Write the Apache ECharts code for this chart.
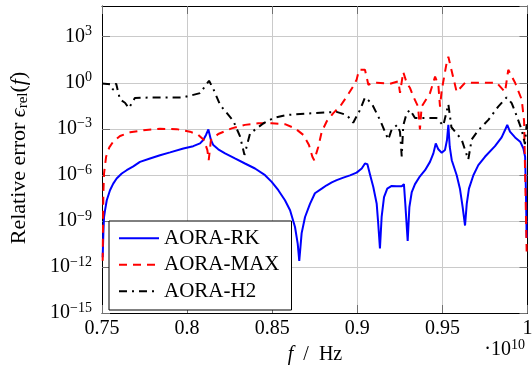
<!DOCTYPE html>
<html><head><meta charset="utf-8">
<script src="https://cdn.jsdelivr.net/npm/echarts@6/dist/echarts.min.js"></script>
<style>html,body{margin:0;padding:0;background:#fff}#c{width:532px;height:377px}</style>
</head><body><div id="c"></div>
<script>
// ---- data (frequency in units of 1e10 Hz, relative error) ----
const xTicks = [0.75, 0.8, 0.85, 0.9, 0.95, 1];
const xTickLabels = ['0.75', '0.8', '0.85', '0.9', '0.95', '1'];
const yTickExps = [-15, -12, -9, -6, -3, 0, 3];
const seriesNames = ['AORA-RK', 'AORA-MAX', 'AORA-H2'];

const rkF = [0.7504,0.7508,0.7512,0.7518,0.7528,0.7547,0.7566,0.7586,0.7616,0.7645,
  0.7684,0.7723,0.7782,0.7841,0.7900,0.7978,0.8036,0.8076,0.8095,0.8111,
  0.8125,0.8129,0.8140,0.8154,0.8183,0.8223,0.8281,0.8340,0.8399,0.8458,
  0.8497,0.8536,0.8575,0.8605,0.8634,0.8650,0.8659,0.8673,0.8693,0.8722,
  0.8751,0.8791,0.8820,0.8850,0.8879,0.8918,0.8957,0.8996,0.9026,0.9045,
  0.9059,0.9075,0.9094,0.9114,0.9123,0.9133,0.9143,0.9157,0.9176,0.9202,
  0.9231,0.9261,0.9274,0.9282,0.9296,0.9306,0.9320,0.9339,0.9368,0.9398,
  0.9427,0.9447,0.9461,0.9476,0.9496,0.9515,0.9527,0.9535,0.9543,0.9555,
  0.9584,0.9603,0.9619,0.9633,0.9643,0.9656,0.9682,0.9711,0.9750,0.9809,
  0.9848,0.9868,0.9881,0.9897,0.9927,0.9957,0.9976,0.9986,0.9991,0.9995];
const rkV = [4.3e-12,1.6e-10,1.8e-9,5e-9,2.2e-8,1e-7,2.7e-7,5.8e-7,1.23e-6,2e-6,
  3.6e-6,7e-6,1.17e-5,1.9e-5,2.9e-5,5.2e-5,7.4e-5,1.12e-4,1.86e-4,4e-4,
  9e-4,1e-3,1.86e-4,8.7e-5,4.6e-5,2.5e-5,1.17e-5,5.5e-6,2.6e-6,9.5e-7,
  3.5e-7,1e-7,2.2e-8,5e-9,4e-10,3.2e-11,2.5e-12,1.6e-10,1.8e-9,1.3e-8,
  6.3e-8,1.26e-7,2.1e-7,3.2e-7,4.5e-7,6.6e-7,9.3e-7,1.4e-6,2.6e-6,5.5e-6,
  5e-6,1e-6,1.6e-7,1.3e-8,6.5e-10,1.6e-11,1.8e-9,3.5e-8,1.26e-7,1.9e-7,
  1.8e-7,1.8e-7,2.5e-7,1.3e-8,5e-11,8e-9,7.6e-8,2.5e-7,8e-7,2e-6,
  7e-6,2.5e-5,1.12e-4,4.6e-5,2.75e-5,4.1e-5,1.86e-4,1.8e-3,6.8e-5,9e-6,
  9.5e-7,1.26e-7,8e-9,5e-10,1.3e-8,1.26e-7,9.5e-7,4.3e-6,1.5e-5,7.4e-5,
  2.75e-4,8.3e-4,1.8e-3,6.5e-4,2.75e-4,1.45e-4,5.2e-5,1.5e-5,6.3e-8,8e-11];

const maxF = [0.7504,0.7508,0.7512,0.7524,0.7543,0.7566,0.7606,0.7665,0.7743,0.7841,
  0.7939,0.8017,0.8066,0.8099,0.8119,0.8127,0.8140,0.8183,0.8262,0.8340,
  0.8418,0.8497,0.8575,0.8634,0.8683,0.8716,0.8736,0.8747,0.8756,0.8771,
  0.8791,0.8820,0.8859,0.8898,0.8938,0.8976,0.8996,0.9010,0.9045,0.9065,
  0.9084,0.9114,0.9192,0.9241,0.9251,0.9270,0.9290,0.9310,0.9329,0.9357,
  0.9368,0.9378,0.9427,0.9457,0.9476,0.9486,0.9496,0.9525,0.9535,0.9556,
  0.9584,0.9633,0.9819,0.9868,0.9887,0.9927,0.9966,0.9980,0.9995];
const maxV = [2.5e-12,6.3e-8,1.26e-6,1.5e-5,6.2e-5,1.45e-4,3.4e-4,5.9e-4,8e-4,1e-3,
  9.5e-4,6.5e-4,4e-4,1.86e-4,4.1e-5,9e-6,1.86e-4,4.6e-4,1.07e-3,1.8e-3,
  2.3e-3,2.3e-3,2e-3,1.07e-3,4e-4,8.7e-5,1.5e-5,9e-6,1.17e-5,6.8e-5,
  6.5e-4,3e-3,1.05e-2,2.8e-2,0.126,0.58,1.6,7,7,0.74,
  0.95,1,0.85,1.23,0.22,5,1,0.45,0.126,2.8e-2,
  9e-4,2.8e-2,0.21,2.5,0.74,2.8e-2,0.32,20,50,5,
  0.25,1,1,0.25,7,1,8e-2,3.2e-3,1e-11];

const h2F = [0.7500,0.7547,0.7565,0.7583,0.7595,0.7606,0.7635,0.7658,0.7693,0.7782,
  0.7976,0.8076,0.8129,0.8154,0.8194,0.8272,0.8311,0.8337,0.8370,0.8449,
  0.8507,0.8586,0.8741,0.8878,0.8938,0.8976,0.9016,0.9045,0.9084,0.9133,
  0.9182,0.9202,0.9235,0.9251,0.9261,0.9270,0.9290,0.9310,0.9339,0.9378,
  0.9466,0.9505,0.9535,0.9553,0.9613,0.9652,0.9672,0.9711,0.9770,0.9828,
  0.9877,0.9907,0.9927,0.9966,0.9985,0.9995];
const h2V = [0.9,0.8,0.35,0.9,0.25,8e-2,5e-2,2.2e-2,0.1,0.11,
  0.11,0.21,1.35,0.4,3.6e-2,3.2e-3,3.2e-4,2e-5,5e-4,2.3e-3,
  5e-3,8e-3,1.05e-2,1.26e-2,8e-3,2.5e-3,1.7e-2,0.11,4.7e-2,3.8e-3,
  2e-4,9e-4,1.8e-3,6.3e-4,1.6e-5,1.6e-3,1.05e-2,1.7e-2,5e-3,5e-3,
  5e-3,1.6e-3,4e-2,1.26e-3,2e-4,1e-5,2e-4,8e-4,3.8e-3,2.8e-2,
  0.11,4.7e-2,1.3e-2,8.5e-4,1e-4,2e-3];

// ---- rendering ----
const FONT = "'Liberation Serif','DejaVu Serif',serif";
const pair = (f, v) => f.map((x, i) => [x, v[i]]);
const minus = s => String(s).replace('-', '\u2212');

const chart = echarts.init(document.getElementById('c'), null, {renderer: 'canvas'});

const gridCol = '#cacaca';
const tickCol = '#707070';

const xBase = {
  type: 'value', min: 0.75, max: 1, interval: 0.05,
  axisLine: {show: true, onZero: false, lineStyle: {color: '#000', width: 1}},
  axisTick: {show: true, inside: true, length: 8, lineStyle: {color: tickCol, width: 1}},
};
const yBase = {
  type: 'log', logBase: 1000, min: 1e-15, max: 1e5,
  axisLine: {show: true, onZero: false, lineStyle: {color: '#000', width: 1}},
  axisTick: {show: true, inside: true, length: 8, lineStyle: {color: tickCol, width: 1}},
  minorTick: {show: false}
};

const option = {
  animation: false,
  backgroundColor: '#fff',
  grid: {left: 102, top: 6, width: 425.5, height: 307, outerBoundsMode: 'none', containLabel: false},
  xAxis: [
    Object.assign({}, xBase, {
      position: 'bottom',
      axisLabel: {
        fontFamily: FONT, fontSize: 20, color: '#000', margin: 6,
        formatter: v => {
          const i = xTicks.findIndex(t => Math.abs(t - v) < 1e-9);
          return i < 0 ? '' : xTickLabels[i];
        }
      },
      splitLine: {show: true, lineStyle: {color: gridCol, width: 1}}
    }),
    Object.assign({}, xBase, {position: 'top', axisLabel: {show: false}, splitLine: {show: false}})
  ],
  yAxis: [
    Object.assign({}, yBase, {
      position: 'left',
      axisLabel: {
        margin: 10, color: '#000', showMaxLabel: false,
        formatter: v => {
          const e = Math.round(Math.log10(v));
          if (yTickExps.indexOf(e) < 0) return '';
          return '{b|10}{s|' + minus(e) + '}';
        },
        rich: {
          b: {fontFamily: FONT, fontSize: 20, lineHeight: 24, verticalAlign: 'middle', color: '#000'},
          s: {fontFamily: FONT, fontSize: 14, lineHeight: 14, verticalAlign: 'top', color: '#000'}
        }
      },
      splitLine: {show: true, lineStyle: {color: gridCol, width: 1}}
    }),
    Object.assign({}, yBase, {position: 'right', axisLabel: {show: false}, splitLine: {show: false}})
  ],
  legend: {
    data: seriesNames, orient: 'vertical', left: 109, top: 221,
    itemWidth: 40, itemHeight: 14, itemGap: 5.5,
    padding: [6.8, 12, 8.2, 9],
    backgroundColor: '#fff', borderColor: '#000', borderWidth: 1, borderRadius: 0,
    selectedMode: false,
    itemStyle: {opacity: 0},
    textStyle: {fontFamily: FONT, fontSize: 21, color: '#000', lineHeight: 21}
  },
  series: [
    {name: seriesNames[0], type: 'line', data: pair(rkF, rkV), symbol: 'none', showSymbol: false,
     lineStyle: {color: '#0000ff', width: 2, type: 'solid'}, itemStyle: {color: '#0000ff'}},
    {name: seriesNames[1], type: 'line', data: pair(maxF, maxV), symbol: 'none', showSymbol: false,
     lineStyle: {color: '#ff0000', width: 2, type: [8, 6]}, itemStyle: {color: '#ff0000'}},
    {name: seriesNames[2], type: 'line', data: pair(h2F, h2V), symbol: 'none', showSymbol: false,
     lineStyle: {color: '#000000', width: 2, type: [8, 5, 2, 5]}, itemStyle: {color: '#000000'}}
  ],
  graphic: [
    {type: 'text', x: 19, y: 158, rotation: Math.PI / 2,
     style: {
       text: 'Relative error {e|\u03F5}{r|rel}({i|f})',
       fontFamily: FONT, fontSize: 22, lineHeight: 24, fill: '#000', align: 'center', verticalAlign: 'middle',
       rich: {
         e: {fontFamily: FONT, fontSize: 22, fontStyle: 'italic', lineHeight: 24, fill: '#000'},
         r: {fontFamily: FONT, fontSize: 15, lineHeight: 14, verticalAlign: 'bottom', fill: '#000'},
         i: {fontFamily: FONT, fontSize: 22, fontStyle: 'italic', lineHeight: 24, fill: '#000'}
       }
     }},
    {type: 'text', x: 315, y: 355,
     style: {
       text: '{i|f}  /  Hz', fontFamily: FONT, fontSize: 20, lineHeight: 24, fill: '#000',
       align: 'center', verticalAlign: 'middle',
       rich: {i: {fontFamily: FONT, fontSize: 20, fontStyle: 'italic', lineHeight: 24, fill: '#000'}}
     }},
    {type: 'text', x: 525, y: 350,
     style: {
       text: '\u00B710{s|10}', fontFamily: FONT, fontSize: 20, lineHeight: 24, fill: '#000',
       align: 'right', verticalAlign: 'middle',
       rich: {s: {fontFamily: FONT, fontSize: 14, lineHeight: 14, verticalAlign: 'top', fill: '#000'}}
     }}
  ]
};
chart.setOption(option);
</script>
</body></html>
